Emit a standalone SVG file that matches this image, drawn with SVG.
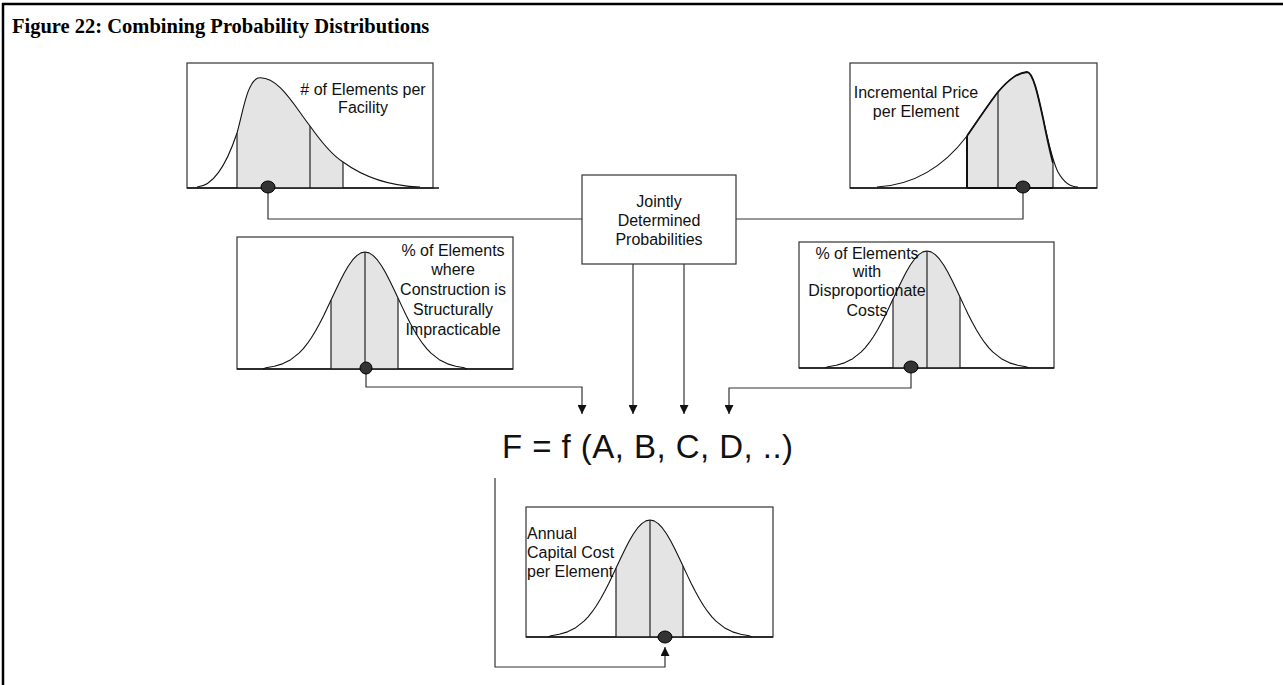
<svg xmlns="http://www.w3.org/2000/svg" width="1283" height="685" viewBox="0 0 1283 685">
<style>
.frame{fill:none;stroke:#000;stroke-width:2.5}
.box{fill:#fff;stroke:#333;stroke-width:1.2}
.base{stroke:#111;stroke-width:1.3;fill:none}
.curve{fill:none;stroke:#111;stroke-width:1.1}
.shade{fill:#e4e4e4;stroke:none}
.vl{stroke:#222;stroke-width:1.2}
.dot{fill:#333;stroke:#000;stroke-width:1}
.conn{fill:none;stroke:#333;stroke-width:1.2}
.lbl{font-family:"Liberation Sans",Arial,sans-serif;font-size:16px;fill:#111}
.title{font-family:"Liberation Serif","Times New Roman",serif;font-weight:bold;font-size:20.5px;fill:#000}
.formula{font-family:"Liberation Sans",Arial,sans-serif;font-size:33px;fill:#111}
</style>
<defs>
<path id="bell" d="M-102,0 L-99,-1.3 L-90.75,-2.67 L-82.5,-5.14 L-74.25,-9.31 L-66,-15.83 L-61.88,-20.19 L-57.75,-25.3 L-53.63,-31.24 L-49.5,-37.98 L-45.38,-45.48 L-41.25,-53.57 L-37.13,-62.14 L-33,-70.96 L-28.88,-79.79 L-24.75,-88.32 L-20.63,-96.25 L-16.5,-103.25 L-12.38,-109.05 L-8.25,-113.4 L-4.13,-116.09 L0,-117 L4.13,-116.09 L8.25,-113.4 L12.38,-109.05 L16.5,-103.25 L20.63,-96.25 L24.75,-88.32 L28.88,-79.79 L33,-70.96 L37.13,-62.14 L41.25,-53.57 L45.38,-45.48 L49.5,-37.98 L53.63,-31.24 L57.75,-25.3 L61.88,-20.19 L66,-15.83 L74.25,-9.31 L82.5,-5.14 L90.75,-2.67 L99,-1.3 L102,0" class="curve" stroke-linejoin="round"/>
<path id="bellShade" d="M-34,0 L-34,-68.8 L-33,-70.96 L-28.88,-79.79 L-24.75,-88.32 L-20.63,-96.25 L-16.5,-103.25 L-12.38,-109.05 L-8.25,-113.4 L-4.13,-116.09 L0,-117 L4.13,-116.09 L8.25,-113.4 L12.38,-109.05 L16.5,-103.25 L20.63,-96.25 L24.75,-88.32 L28.88,-79.79 L33,-70.96 L33,0 Z" class="shade"/>
<g id="bellLines">
<line x1="-34" y1="0" x2="-34" y2="-68.8" class="vl"/>
<line x1="0" y1="0" x2="0" y2="-117" class="vl"/>
<line x1="33" y1="0" x2="33" y2="-71" class="vl"/>
</g>
<marker id="arr" viewBox="0 0 10 10" refX="10" refY="5" markerWidth="9" markerHeight="9" markerUnits="userSpaceOnUse" orient="auto">
<path d="M0,0 L10,5 L0,10 Z" fill="#111"/>
</marker>
</defs>

<g id="frame">
<line x1="2" y1="4" x2="1283" y2="4" class="frame"/>
<line x1="3" y1="3" x2="3" y2="685" class="frame"/>
<text x="12" y="33" class="title">Figure 22: Combining Probability Distributions</text>
</g>

<g id="connectors">
<polyline points="268,188 268,219 582,219" class="conn"/>
<polyline points="736,219 1023,219 1023,188" class="conn"/>
<line x1="633" y1="264" x2="633" y2="414" class="conn" marker-end="url(#arr)"/>
<line x1="684" y1="264" x2="684" y2="414" class="conn" marker-end="url(#arr)"/>
<polyline points="366,369 366,387 582,387 582,414" class="conn" marker-end="url(#arr)"/>
<polyline points="911,368 911,388 729,388 729,414" class="conn" marker-end="url(#arr)"/>
<polyline points="495,478 495,667 665,667 665,647" class="conn" marker-end="url(#arr)"/>
</g>

<g id="node-elements-per-facility">
<rect x="187" y="63" width="246" height="125" class="box"/>
<path d="M237,188 L237,133 C243,112 247,82 258,78 C278,75 295,107 310,126 C322,143 332,155 343,162 L343,188 Z" class="shade"/>
<path d="M197,187 C215,186 228,160 237,133 C243,112 247,82 258,78 C278,75 295,107 310,126 C322,143 332,155 343,162 C365,178 390,186 420,187" class="curve"/>
<line x1="237" y1="188" x2="237" y2="133" class="vl"/>
<line x1="310" y1="188" x2="310" y2="126" class="vl"/>
<line x1="343" y1="188" x2="343" y2="162" class="vl"/>
<line x1="187" y1="188" x2="439" y2="188" class="base"/>
<ellipse cx="268" cy="187" rx="7" ry="6" class="dot"/>
<text class="lbl" text-anchor="middle"><tspan x="363" y="95"># of Elements per</tspan><tspan x="363" y="113">Facility</tspan></text>
</g>

<g id="node-incremental-price">
<rect x="850" y="63" width="247" height="125" class="box"/>
<path d="M967,188 L967,136 C978,120 990,102 998,92 C1010,78 1018,73 1027,72 C1033,72 1038,95 1043,118 C1047,138 1050,152 1053,163 L1053,188 Z" class="shade"/>
<path d="M877,187 C915,185 945,165 967,136 C978,120 990,102 998,92 C1010,78 1018,73 1027,72 C1033,72 1038,95 1043,118 C1048,140 1052,160 1058,172 C1064,183 1070,187 1078,187" class="curve"/>
<path d="M967,136 C978,120 990,102 998,92 C1010,78 1018,73 1027,72 C1033,72 1038,95 1043,118 C1047,138 1050,152 1053,163" fill="none" stroke="#111" stroke-width="1.8"/>
<line x1="967" y1="188" x2="967" y2="136" stroke="#111" stroke-width="2"/>
<line x1="998" y1="188" x2="998" y2="92" class="vl"/>
<line x1="1053" y1="188" x2="1053" y2="163" class="vl"/>
<line x1="850" y1="188" x2="1097" y2="188" class="base"/>
<line x1="967" y1="188" x2="1053" y2="188" stroke="#111" stroke-width="2"/>
<ellipse cx="1023" cy="187" rx="7" ry="6" class="dot"/>
<text class="lbl" text-anchor="middle"><tspan x="916" y="98">Incremental Price</tspan><tspan x="916" y="117">per Element</tspan></text>
</g>

<g id="node-jointly">
<rect x="582" y="175" width="154" height="89" class="box"/>
<text class="lbl" text-anchor="middle"><tspan x="659" y="207">Jointly</tspan><tspan x="659" y="226">Determined</tspan><tspan x="659" y="245">Probabilities</tspan></text>
</g>

<g id="node-structurally-impracticable">
<rect x="237" y="237" width="276" height="132" class="box"/>
<use href="#bellShade" transform="translate(365,369)"/>
<use href="#bell" transform="translate(365,369)"/>
<use href="#bellLines" transform="translate(365,369)"/>
<line x1="237" y1="369" x2="513" y2="369" class="base"/>
<ellipse cx="366" cy="368" rx="6" ry="6" class="dot"/>
<text class="lbl" text-anchor="middle"><tspan x="453" y="256">% of Elements</tspan><tspan x="453" y="275">where</tspan><tspan x="453" y="295">Construction is</tspan><tspan x="453" y="315">Structurally</tspan><tspan x="453" y="335">Impracticable</tspan></text>
</g>

<g id="node-disproportionate-costs">
<rect x="799" y="242" width="255" height="126" class="box"/>
<use href="#bellShade" transform="translate(927,368)"/>
<text class="lbl" text-anchor="middle"><tspan x="867" y="259">% of Elements</tspan><tspan x="867" y="277">with</tspan><tspan x="867" y="296">Disproportionate</tspan><tspan x="867" y="316">Costs</tspan></text>
<use href="#bell" transform="translate(927,368)"/>
<use href="#bellLines" transform="translate(927,368)"/>
<line x1="799" y1="368" x2="1054" y2="368" class="base"/>
<ellipse cx="911" cy="367" rx="7" ry="6" class="dot"/>
</g>

<g id="node-formula">
<text x="502" y="458" class="formula" textLength="291" lengthAdjust="spacing">F = f (A, B, C, D, ..)</text>
</g>

<g id="node-annual-capital-cost">
<rect x="526" y="507" width="247" height="130" class="box"/>
<use href="#bellShade" transform="translate(650,637)"/>
<use href="#bell" transform="translate(650,637)"/>
<use href="#bellLines" transform="translate(650,637)"/>
<line x1="526" y1="637" x2="773" y2="637" class="base"/>
<ellipse cx="665" cy="637" rx="7" ry="6" class="dot"/>
<text class="lbl"><tspan x="527" y="539">Annual</tspan><tspan x="527" y="558">Capital Cost</tspan><tspan x="527" y="577">per Element</tspan></text>
</g>
</svg>
